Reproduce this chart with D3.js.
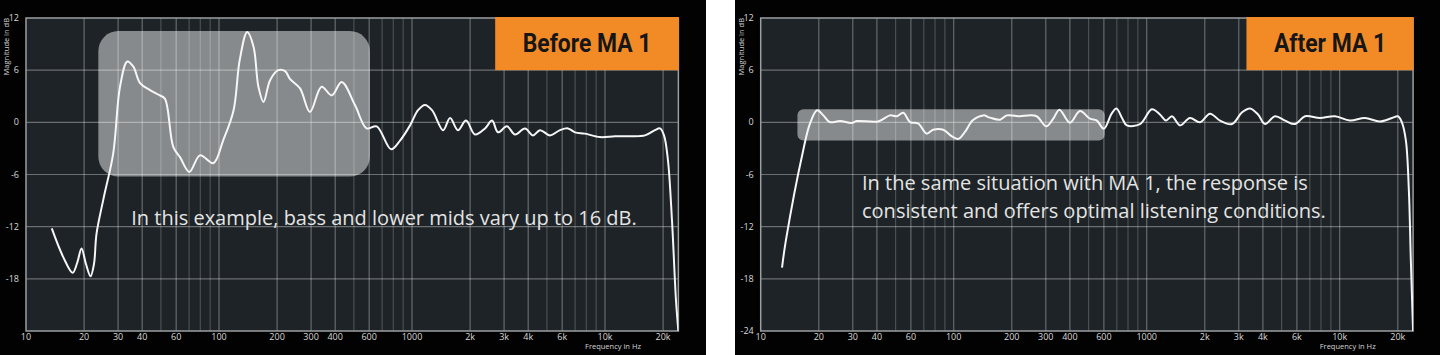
<!DOCTYPE html>
<meta charset="utf-8">
<html>
<head>
  <style>
    body { margin: 0; background: #fff; }
    .tick { font: 9px "Open Sans", sans-serif; fill: #d8d8d8; }
    .axis-title { font: 7.5px "Open Sans", sans-serif; fill: #d4d4d4; }
    .title { font: bold 26px "Roboto", sans-serif; fill: #161616; }
    .caption { font: 20px "Open Sans", sans-serif; fill: #e4e4e4; }
  </style>
</head>
<body>
<svg width="1440" height="355"></svg>

<script src="https://d3js.org/d3.v7.min.js"></script>
<script>

// Measured response before correction (Hz, dB)
const beforeFreq = [13.6, 15.6, 17.45, 18.45, 19.4, 20.45, 21.6, 22.5, 23.2, 25.2, 28.3, 30.7, 33.5, 36, 39, 43.9, 49.4, 52.5,
  58, 62.8, 70.2, 79.7, 93.4, 105, 119, 128, 140, 151, 160, 170, 184, 203, 220, 233, 263, 296, 340, 384, 432, 507, 582, 656,
  780, 867, 977, 1075, 1167, 1270, 1450, 1575, 1730, 1905, 2120, 2390, 2600, 2790, 3105, 3420, 3850, 4235, 4605, 5190, 5845,
  6430, 6995, 7870, 9420, 11270, 13480, 16120, 18150, 19270, 20220, 21200, 22240, 23330, 24000];
const beforeDb = [-12.2, -15.5, -17.3, -16.1, -14.5, -16.3, -17.7, -16.3, -12.8, -8.8, -3.6, 4.1, 7.0, 6.4, 4.5, 3.7, 3.1, 2.7,
  -2.85, -4.0, -5.7, -3.8, -4.7, -2.1, 1.4, 7.15, 10.4, 8.7, 4.1, 2.35, 4.85, 6.0, 5.9, 5.0, 3.9, 1.2, 4.1, 3.1, 4.65, 1.96, -0.7, -0.46,
  -3.1, -2.1, -0.35, 1.4, 2.0, 1.4, -0.9, 0.5, -0.9, 0.2, -1.4, -0.7, 0.2, -1.15, -0.46, -1.4, -0.7, -1.5, -0.9, -1.5, -0.9,
  -0.7, -1.15, -1.3, -1.7, -1.6, -1.6, -1.5, -0.9, -0.7, -1.5, -4.4, -11.3, -20.5, -24];

// Measured response after correction (Hz, dB)
const afterFreq = [12.9, 13.5, 16.6, 18, 19.6, 21.1, 22.8, 25.8, 29.6, 31.4, 40.6, 46.7, 50.6, 54.8, 59.4, 65.6, 72.4, 78.3,
  88.2, 97.5, 105.8, 114.4, 125.5, 142.6, 153.9, 174, 188.6, 220.8, 243.5, 269, 302, 328, 353, 400, 451, 508, 550, 600, 658, 697,
  745, 789, 923, 1064, 1171, 1259, 1352, 1487, 1675, 1888, 2128, 2398, 2768, 3120, 3430, 3775, 4104, 4624, 5210, 5866, 6610,
  7906, 9450, 11300, 13510, 16150, 18650, 20030, 21000, 22030, 22820, 23370, 24000];
const afterDb = [-16.7, -13.6, -3.23, -0.15, 1.38, 0.8, 0.03, 0.15, -0.08, 0.15, 0.1, 0.8, 0.7, 1.1, 0.03, -0.15, -1.3, -0.85,
  -0.85, -1.6, -1.9, -1.1, 0.23, 0.8, 0.54, 0.3, 0.8, 0.7, 0.8, 0.7, -0.46, 0.42, 1.46, -0.04, 1.3, 0.42, 0.23, -0.73, 1.0, 1.58,
  0.5, -0.35, -0.2, 1.5, 0.9, 0.2, 0.7, -0.35, 0.5, 0, 1.0, 0.2, -0.2, 1.15, 1.6, 0.9, -0.2, 0.7, 0.2, -0.2, 0.7,
  0.5, 0.7, 0.2, 0.5, 0.1, 0.5, 0.7, 0, -2.1, -7.8, -15.9, -24];

// Axes
const freqTicks = [10, 20, 30, 40, 60, 100, 200, 300, 400, 600, 1000, 2000, 3000, 4000, 6000, 10000, 20000];
const freqTickLabels = ["10", "20", "30", "40", "60", "100", "200", "300", "400", "600", "1000", "2k", "3k", "4k", "6k", "10k", "20k"];
const dbTicks = [12, 6, 0, -6, -12, -18, -24];
const dbGrid = [6, 0, -6, -12, -18];
const freqDomain = [10, 24000];
const dbDomain = [-24, 12];

// grid lines: 20..90, 100..900, 1k..9k, 10k, 20k
const gridFreqs = [];
[10, 100, 1000].forEach(dec => d3.range(dec === 10 ? 2 : 1, 10).forEach(m => gridFreqs.push(m * dec)));
gridFreqs.push(10000, 20000);

const panels = [
  {
    x: 0, w: 706, left: 26, top: 18, bottom: 331,
    title: "Before MA 1",
    freq: beforeFreq, db: beforeDb,
    yLabels: [12, 6, 0, -6, -12, -18],
    box: { f: [23.7, 605], db: [-6.23, 10.5], r: 20 },
    caption: ["In this example, bass and lower mids vary up to 16 dB."],
    capX: 384, capY: 225, capAnchor: "middle"
  },
  {
    x: 735, w: 705, left: 760.7, top: 18, bottom: 331,
    title: "After MA 1",
    freq: afterFreq, db: afterDb,
    yLabels: dbTicks,
    box: { f: [15.5, 606], db: [-2.08, 1.5], r: 6 },
    caption: ["In the same situation with MA 1, the response is", "consistent and offers optimal listening conditions."],
    capX: 862, capY: 190, capAnchor: "start"
  }
];

const svg = d3.select("svg");
const decade = 193;

panels.forEach((p, i) => {
  const g = svg.append("g");
  const right = p.left + decade * Math.log10(freqDomain[1] / freqDomain[0]);

  const x = d3.scaleLog().domain(freqDomain).range([p.left, right]);
  const y = d3.scaleLinear().domain(dbDomain).range([p.bottom, p.top]);

  g.append("rect").attr("x", p.x).attr("y", 0).attr("width", p.w).attr("height", 355).attr("fill", "#020202");
  g.append("rect")
    .attr("x", p.left).attr("y", p.top)
    .attr("width", right - p.left).attr("height", p.bottom - p.top)
    .attr("fill", "#1d2326");

  // highlight box
  g.append("rect")
    .attr("x", x(p.box.f[0])).attr("y", y(p.box.db[1]))
    .attr("width", x(p.box.f[1]) - x(p.box.f[0]))
    .attr("height", y(p.box.db[0]) - y(p.box.db[1]))
    .attr("rx", p.box.r)
    .attr("fill", "#fff").attr("fill-opacity", 0.47);

  // grid
  g.selectAll(".vgrid").data(gridFreqs).join("line")
    .attr("x1", d => x(d)).attr("x2", d => x(d))
    .attr("y1", p.top).attr("y2", p.bottom)
    .attr("stroke", "#fff")
    .attr("stroke-opacity", d => freqTicks.includes(d) ? 0.32 : 0.2)
    .attr("stroke-width", 1.2);

  g.selectAll(".hgrid").data(dbGrid).join("line")
    .attr("x1", p.left).attr("x2", right)
    .attr("y1", d => y(d)).attr("y2", d => y(d))
    .attr("stroke", "#fff").attr("stroke-opacity", 0.35).attr("stroke-width", 1.2);

  g.append("rect")
    .attr("x", p.left).attr("y", p.top)
    .attr("width", right - p.left).attr("height", p.bottom - p.top)
    .attr("fill", "none").attr("stroke", "#9c9fa1").attr("stroke-width", 1.5);

  // curve
  const clipId = "clip" + i;
  g.append("clipPath").attr("id", clipId).append("rect")
    .attr("x", p.left).attr("y", p.top - 2).attr("width", right - p.left).attr("height", p.bottom - p.top + 2);

  const line = d3.line()
    .x(d => x(d[0])).y(d => y(d[1]))
    .curve(d3.curveCatmullRom.alpha(0.5));

  g.append("path")
    .datum(d3.zip(p.freq, p.db))
    .attr("clip-path", `url(#${clipId})`)
    .attr("d", line)
    .attr("fill", "none").attr("stroke", "#f6f6f6").attr("stroke-width", 2);

  // ticks
  g.selectAll(".xt").data(freqTicks).join("text")
    .attr("class", "tick")
    .attr("x", d => x(d)).attr("y", 340)
    .attr("text-anchor", "middle")
    .text((d, k) => freqTickLabels[k]);

  g.selectAll(".yt").data(p.yLabels).join("text")
    .attr("class", "tick")
    .attr("x", p.left - 7).attr("y", d => y(d))
    .attr("dy", "0.35em")
    .attr("text-anchor", "end")
    .text(d => d);

  g.append("text").attr("class", "axis-title")
    .attr("transform", `translate(${p.left - 19.5},${p.top}) rotate(-90)`)
    .attr("dy", "0.35em")
    .attr("text-anchor", "end")
    .text("Magnitude in dB");

  g.append("text").attr("class", "axis-title")
    .attr("x", x(10000) + 8).attr("y", 349)
    .attr("text-anchor", "middle")
    .text("Frequency in Hz");

  // title badge, text squeezed to a condensed look
  const t = g.append("text").attr("class", "title")
    .attr("y", 52)
    .text(p.title);
  const tw = t.node().getComputedTextLength() * 0.88;
  t.attr("textLength", tw).attr("lengthAdjust", "spacingAndGlyphs");
  const bw = tw + 55;
  g.insert("rect", "text.title")
    .attr("x", right - bw + 0.5).attr("y", p.top - 1)
    .attr("width", bw).attr("height", y(6) - p.top + 1)
    .attr("fill", "#f28b26");
  t.attr("x", right - bw + 28);

  // caption
  g.append("text").attr("class", "caption")
    .attr("text-anchor", p.capAnchor)
    .selectAll("tspan").data(p.caption).join("tspan")
    .attr("x", p.capX)
    .attr("y", (d, k) => p.capY + k * 28)
    .text(d => d);
});

</script>
</body>
</html>
